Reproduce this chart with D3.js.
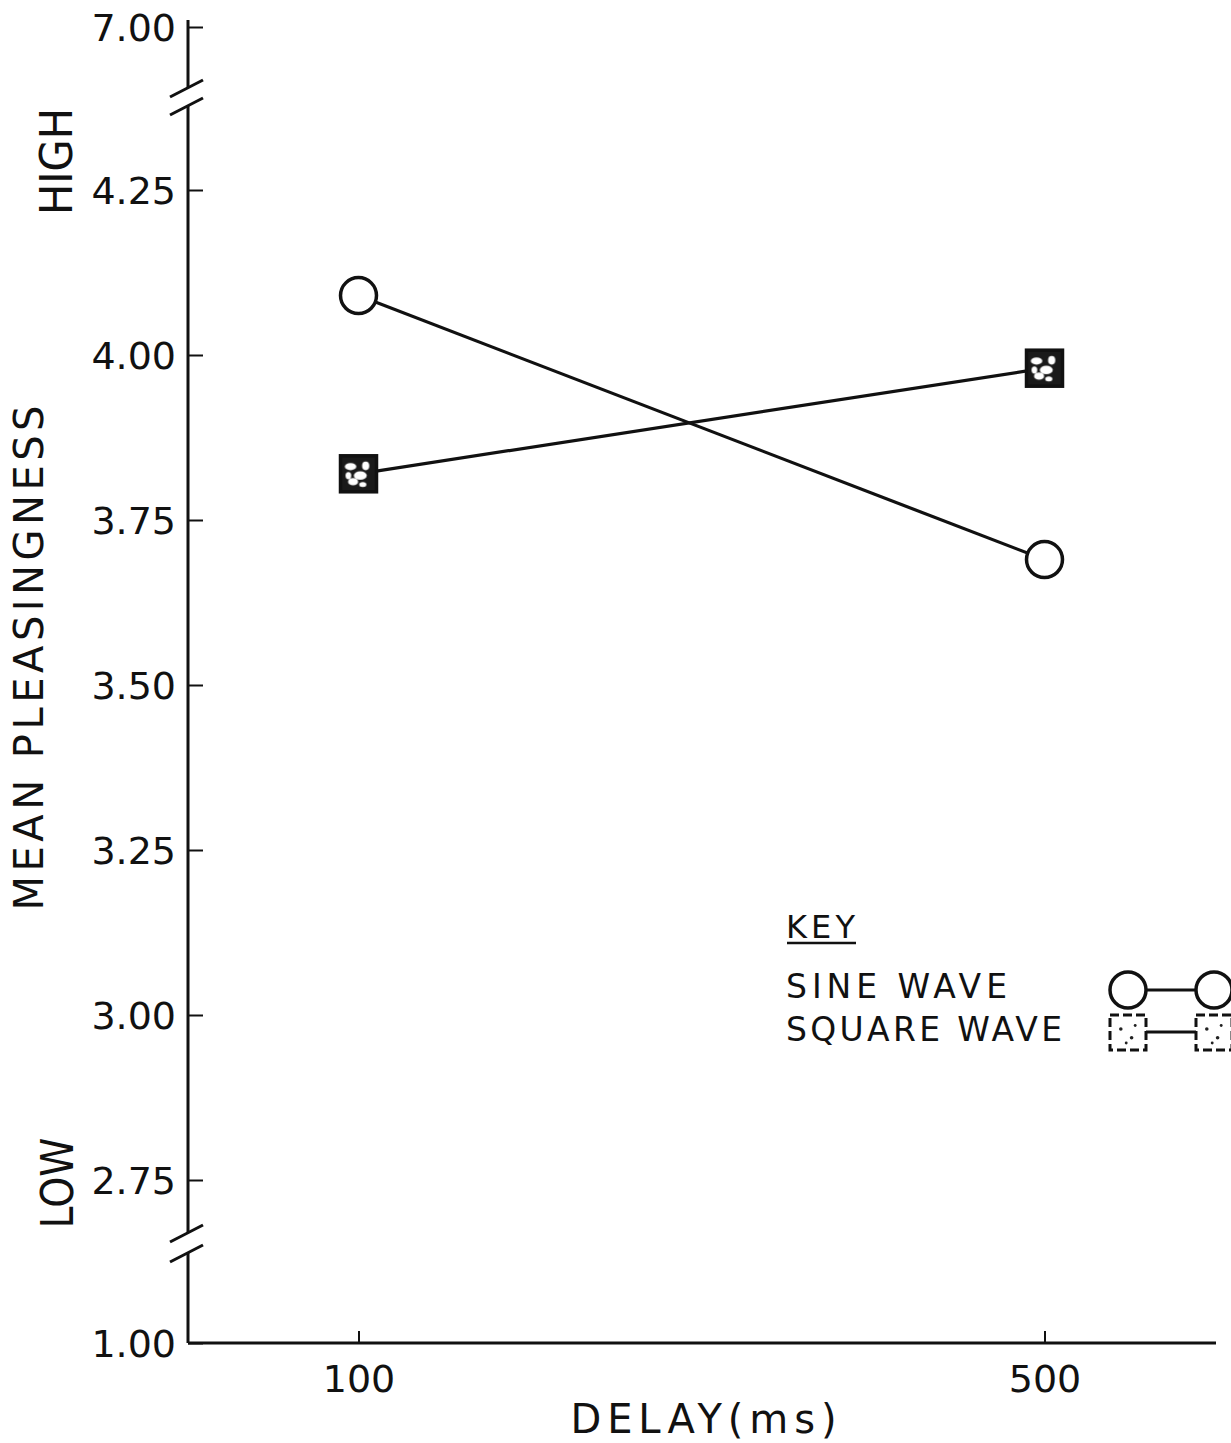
<!DOCTYPE html>
<html>
<head>
<meta charset="utf-8">
<script src="https://cdn.jsdelivr.net/npm/d3@7"></script>
<style>
  body { margin: 0; background: #fff; }
  svg { display: block; }
  text { font-family: "DejaVu Sans", sans-serif; fill: #111; }
</style>
</head>
<body>
<div id="chart"></div>
<script>
// values
const delays = [100, 500];
const sineWave = [4.09, 3.69];
const squareWave = [3.82, 3.98];
const yTicks = [1.00, 2.75, 3.00, 3.25, 3.50, 3.75, 4.00, 4.25, 7.00];
const xTicks = [100, 500];
const legendLabels = ['SINE WAVE', 'SQUARE WAVE'];

const width = 1231;
const height = 1443;

const svg = d3.select('#chart')
    .append('svg')
    .attr('width', width)
    .attr('height', height);

// blotchy print fill for the square markers
const defs = svg.append('defs');
const pat = defs.append('pattern')
    .attr('id', 'blotch')
    .attr('patternUnits', 'objectBoundingBox')
    .attr('patternContentUnits', 'objectBoundingBox')
    .attr('width', 1).attr('height', 1);
pat.append('rect').attr('width', 1).attr('height', 1).attr('fill', '#1a1a1a');
[[0.28, 0.3, 0.16, 0.1], [0.55, 0.55, 0.18, 0.12], [0.35, 0.72, 0.14, 0.1], [0.7, 0.28, 0.1, 0.12], [0.22, 0.55, 0.08, 0.1], [0.62, 0.8, 0.1, 0.07]]
    .forEach(([cx, cy, rx, ry]) => pat.append('ellipse')
        .attr('cx', cx).attr('cy', cy).attr('rx', rx).attr('ry', ry).attr('fill', '#fff'));

const pat2 = defs.append('pattern')
    .attr('id', 'blotchLight')
    .attr('patternUnits', 'objectBoundingBox')
    .attr('patternContentUnits', 'objectBoundingBox')
    .attr('width', 1).attr('height', 1);
pat2.append('rect').attr('width', 1).attr('height', 1).attr('fill', '#fff');
[[0.3, 0.4, 0.05], [0.6, 0.65, 0.05], [0.45, 0.8, 0.04], [0.7, 0.3, 0.04]]
    .forEach(([cx, cy, r]) => pat2.append('circle').attr('cx', cx).attr('cy', cy).attr('r', r).attr('fill', '#222'));

// broken y scale: piecewise linear
const y = d3.scaleLinear()
    .domain([1.00, 2.75, 4.25, 7.00])
    .range([1343, 1180, 190, 27]);

const x = d3.scaleLinear()
    .domain([0, 600])
    .range([187, 1216]);

const axisX = 188;
const axisY = 1343;

// y axis with two breaks
const yAxisG = svg.append('g').attr('transform', `translate(${axisX},0)`);
yAxisG.call(d3.axisLeft(y).tickValues(yTicks).tickFormat(d3.format('.2f'))
    .tickSize(-15).tickSizeOuter(0).tickPadding(12));
yAxisG.select('.domain').remove();
yAxisG.selectAll('.tick line').attr('stroke', '#111').attr('stroke-width', 2);
yAxisG.selectAll('.tick text').style('font-size', '38px').attr('dy', '0.36em');

const topBreak = [88, 106];
const bottomBreak = [1233, 1253];
const ySegments = [[20, topBreak[0]], [topBreak[1], bottomBreak[0]], [bottomBreak[1], axisY]];
svg.append('g').selectAll('line')
    .data(ySegments)
    .join('line')
    .attr('x1', axisX).attr('x2', axisX)
    .attr('y1', (d) => d[0]).attr('y2', (d) => d[1])
    .attr('stroke', '#111').attr('stroke-width', 3);

// break slashes
const slashes = [topBreak[0], topBreak[1], bottomBreak[0], bottomBreak[1]];
svg.append('g').selectAll('line')
    .data(slashes)
    .join('line')
    .attr('x1', axisX - 18).attr('y1', (d) => d + 9)
    .attr('x2', axisX + 15).attr('y2', (d) => d - 8)
    .attr('stroke', '#111').attr('stroke-width', 3);

// x axis
const xAxisG = svg.append('g').attr('transform', `translate(0,${axisY})`);
xAxisG.call(d3.axisBottom(x).tickValues(xTicks).tickSize(-12).tickSizeOuter(0).tickPadding(22));
xAxisG.select('.domain').attr('stroke', '#111').attr('stroke-width', 3)
    .attr('d', `M${axisX},0H${x.range()[1]}`);
xAxisG.selectAll('.tick line').attr('stroke', '#111').attr('stroke-width', 2);
xAxisG.selectAll('.tick text').style('font-size', '38px');

// axis titles
svg.append('text')
    .attr('x', (x(100) + x(500)) / 2 + 2)
    .attr('y', 1433)
    .attr('text-anchor', 'middle')
    .attr('textLength', 266)
    .attr('lengthAdjust', 'spacing')
    .style('font-size', '40px')
    .text('DELAY(ms)');

svg.append('text')
    .attr('transform', 'translate(43,658) rotate(-90)')
    .attr('text-anchor', 'middle')
    .attr('textLength', 505)
    .attr('lengthAdjust', 'spacing')
    .style('font-size', '40px')
    .text('MEAN PLEASINGNESS');

svg.append('text')
    .attr('transform', `translate(72,${(y(4.25) + y(7.00)) / 2 + 53}) rotate(-90)`)
    .attr('text-anchor', 'middle')
    .attr('textLength', 107)
    .attr('lengthAdjust', 'spacingAndGlyphs')
    .style('font-size', '44px')
    .text('HIGH');

svg.append('text')
    .attr('transform', `translate(73,${y(2.75) + 3}) rotate(-90)`)
    .attr('text-anchor', 'middle')
    .attr('textLength', 91)
    .attr('lengthAdjust', 'spacingAndGlyphs')
    .style('font-size', '44px')
    .text('LOW');

// series
const line = d3.line().x((d) => x(d[0])).y((d) => y(d[1]));
const sinePts = delays.map((d, i) => [d, sineWave[i]]);
const squarePts = delays.map((d, i) => [d, squareWave[i]]);

svg.append('path').datum(sinePts).attr('d', line)
    .attr('fill', 'none').attr('stroke', '#111').attr('stroke-width', 3.2);
svg.append('path').datum(squarePts).attr('d', line)
    .attr('fill', 'none').attr('stroke', '#111').attr('stroke-width', 3.2);

svg.append('g').selectAll('circle')
    .data(sinePts)
    .join('circle')
    .attr('cx', (d) => x(d[0]))
    .attr('cy', (d) => y(d[1]))
    .attr('r', 18)
    .attr('fill', '#fff')
    .attr('stroke', '#111')
    .attr('stroke-width', 3.5);

const sq = 36;
svg.append('g').selectAll('rect')
    .data(squarePts)
    .join('rect')
    .attr('x', (d) => x(d[0]) - sq / 2)
    .attr('y', (d) => y(d[1]) - sq / 2)
    .attr('width', sq)
    .attr('height', sq)
    .attr('fill', 'url(#blotch)')
    .attr('stroke', '#111')
    .attr('stroke-width', 3.5);

// key
const key = svg.append('g').attr('transform', 'translate(786,0)');
key.append('text').attr('x', 0).attr('y', 938)
    .attr('textLength', 69).attr('lengthAdjust', 'spacing')
    .style('font-size', '32px').text('KEY');
key.append('line').attr('x1', 1).attr('x2', 70).attr('y1', 943).attr('y2', 943)
    .attr('stroke', '#111').attr('stroke-width', 2.5);

const rowY = [998, 1041];
const rowLen = [221, 276];
key.selectAll('text.lab')
    .data(legendLabels)
    .join('text')
    .attr('class', 'lab')
    .attr('x', 0)
    .attr('y', (d, i) => rowY[i])
    .attr('textLength', (d, i) => rowLen[i])
    .attr('lengthAdjust', 'spacing')
    .style('font-size', '33px')
    .text((d) => d);

const kx = [1128, 1214];
svg.append('line').attr('x1', kx[0]).attr('x2', kx[1]).attr('y1', 990).attr('y2', 990)
    .attr('stroke', '#111').attr('stroke-width', 3);
svg.append('g').selectAll('circle')
    .data(kx)
    .join('circle')
    .attr('cx', (d) => d).attr('cy', 990).attr('r', 18)
    .attr('fill', '#fff').attr('stroke', '#111').attr('stroke-width', 3.5);

svg.append('line').attr('x1', kx[0]).attr('x2', kx[1]).attr('y1', 1032).attr('y2', 1032)
    .attr('stroke', '#111').attr('stroke-width', 3);
svg.append('g').selectAll('rect')
    .data(kx)
    .join('rect')
    .attr('x', (d) => d - 18).attr('y', 1015)
    .attr('width', 36).attr('height', 35)
    .attr('fill', 'url(#blotchLight)')
    .attr('stroke', '#111').attr('stroke-width', 3)
    .attr('stroke-dasharray', '9 4');
</script>
</body>
</html>
